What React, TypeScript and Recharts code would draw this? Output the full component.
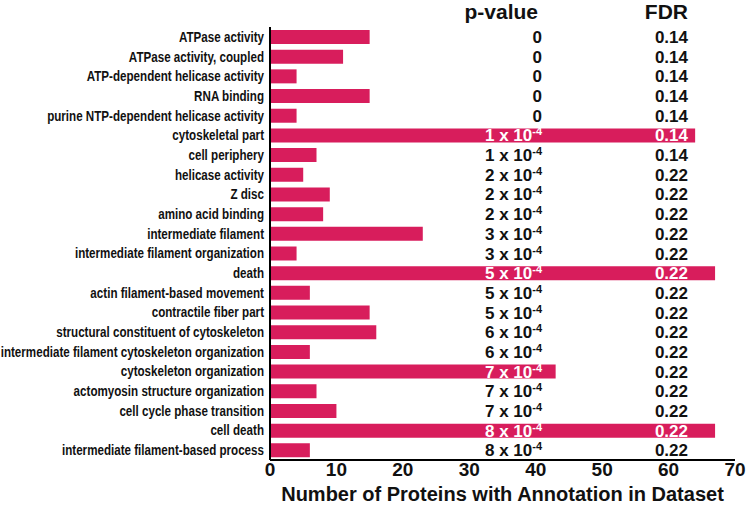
import React from 'react';
import { BarChart, Bar, XAxis, YAxis, LabelList, Label } from 'recharts';

const categories = [
  'ATPase activity',
  'ATPase activity, coupled',
  'ATP-dependent helicase activity',
  'RNA binding',
  'purine NTP-dependent helicase activity',
  'cytoskeletal part',
  'cell periphery',
  'helicase activity',
  'Z disc',
  'amino acid binding',
  'intermediate filament',
  'intermediate filament organization',
  'death',
  'actin filament-based movement',
  'contractile fiber part',
  'structural constituent of cytoskeleton',
  'intermediate filament cytoskeleton organization',
  'cytoskeleton organization',
  'actomyosin structure organization',
  'cell cycle phase transition',
  'cell death',
  'intermediate filament-based process',
];

const proteinCounts = [15, 11, 4, 15, 4, 64, 7, 5, 9, 8, 23, 4, 67, 6, 15, 16, 6, 43, 7, 10, 67, 6];

// p-value shown as mantissa x 10^exponent (0 when mantissa is 0)
const pValueMantissa = [0, 0, 0, 0, 0, 1, 1, 2, 2, 2, 3, 3, 5, 5, 5, 6, 6, 7, 7, 7, 8, 8];
const pValueExponent = -4;

const fdrValues = [
  '0.14', '0.14', '0.14', '0.14', '0.14', '0.14', '0.14',
  '0.22', '0.22', '0.22', '0.22', '0.22', '0.22', '0.22', '0.22',
  '0.22', '0.22', '0.22', '0.22', '0.22', '0.22', '0.22',
];

const xTicks = [0, 10, 20, 30, 40, 50, 60, 70];

const data = categories.map((name, i) => ({
  name,
  count: proteinCounts[i],
  p: pValueMantissa[i],
  fdr: fdrValues[i],
}));

const BAR_COLOR = '#D81D5C';
const INK = '#111111';
const FONT = '"Liberation Sans", Arial, Helvetica, sans-serif';
const WIDTH = 747;
const HEIGHT = 505;

// right edges of the two text columns
const PVALUE_RIGHT = 542;
const FDR_RIGHT = 688;

const CategoryTick = (props: any) => {
  const { x, y, payload } = props;
  return (
    <g transform={`translate(${x},${y})`}>
      <text
        transform="scale(0.83,1)"
        textAnchor="end"
        dy={5}
        fontSize={14}
        fontWeight="bold"
        fill={INK}
        fontFamily={FONT}
      >
        {payload.value}
      </text>
    </g>
  );
};

const RowStats = (props: any) => {
  const { x, y, width, height, index } = props;
  const row = data[index];
  if (!row) return null;
  const barEnd = x + width;
  const cy = y + height / 2 + 6;
  const pFill = barEnd >= PVALUE_RIGHT ? '#ffffff' : INK;
  const fFill = barEnd >= FDR_RIGHT ? '#ffffff' : INK;
  return (
    <g fontFamily={FONT} fontWeight="bold" fontSize={17}>
      {row.p === 0 ? (
        <text x={PVALUE_RIGHT} y={cy} textAnchor="end" fill={pFill}>0</text>
      ) : (
        <text x={PVALUE_RIGHT} y={cy} textAnchor="end" fill={pFill}>
          {`${row.p} x 10`}
          <tspan fontSize={11} dy={-6}>{`${pValueExponent}`}</tspan>
        </text>
      )}
      <text x={FDR_RIGHT} y={cy} textAnchor="end" fill={fFill}>{row.fdr}</text>
    </g>
  );
};

export default function App() {
  return (
    <div style={{ position: 'relative', width: WIDTH, height: HEIGHT, background: '#fff' }}>
      <style>{'body{margin:0;}'}</style>
      <BarChart
        width={WIDTH}
        height={HEIGHT}
        data={data}
        layout="vertical"
        margin={{ top: 27, right: 12, bottom: 0, left: 0 }}
        barCategoryGap={3}
      >
        <XAxis
          type="number"
          domain={[0, 70]}
          ticks={xTicks}
          interval={0}
          height={45}
          tickLine={false}
          tickSize={0}
          tickMargin={3}
          axisLine={{ stroke: '#000', strokeWidth: 2 }}
          tick={{ fill: INK, fontSize: 19, fontWeight: 'bold', fontFamily: FONT }}
        >
          <Label
            value="Number of Proteins with Annotation in Dataset"
            position="insideBottom"
            offset={4}
            style={{ fill: INK, fontSize: 20, fontWeight: 'bold', fontFamily: FONT }}
          />
        </XAxis>
        <YAxis
          type="category"
          dataKey="name"
          width={270}
          interval={0}
          tickLine={false}
          tickSize={0}
          tickMargin={6}
          axisLine={{ stroke: '#000', strokeWidth: 2 }}
          tick={<CategoryTick />}
        />
        <Bar dataKey="count" fill={BAR_COLOR} isAnimationActive={false}>
          <LabelList dataKey="count" content={<RowStats />} />
        </Bar>
      </BarChart>
      <svg
        width={WIDTH}
        height={HEIGHT}
        style={{ position: 'absolute', left: 0, top: 0, pointerEvents: 'none' }}
      >
        <g fontFamily={FONT} fontWeight="bold" fontSize={21} fill={INK}>
          <text x={PVALUE_RIGHT - 4} y={19} textAnchor="end">p-value</text>
          <text x={FDR_RIGHT} y={19} textAnchor="end">FDR</text>
        </g>
      </svg>
    </div>
  );
}
